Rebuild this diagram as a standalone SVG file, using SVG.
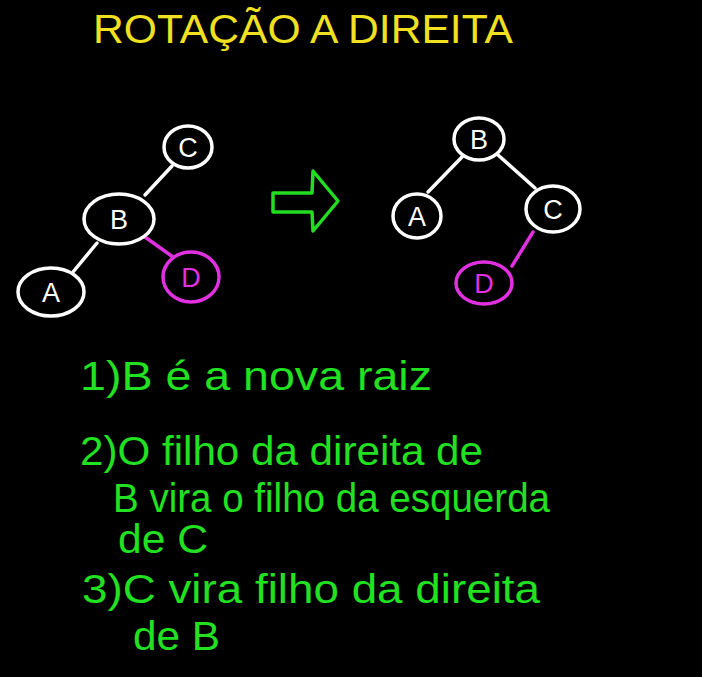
<svg xmlns="http://www.w3.org/2000/svg" width="702" height="677" viewBox="0 0 702 677">
<style>
.n{fill:#000;stroke:#fff;stroke-width:3.5}
.m{fill:#000;stroke:#e030e0;stroke-width:3.5}
.lw{fill:#fff;font-family:"Liberation Sans",Arial,sans-serif;font-size:27px;text-anchor:middle}
.lm{fill:#e030e0;font-family:"Liberation Sans",Arial,sans-serif;font-size:27px;text-anchor:middle}
.e{stroke:#fff;stroke-width:3.5;stroke-linecap:round;fill:none}
.em{stroke:#e030e0;stroke-width:3.5;stroke-linecap:round;fill:none}
.t{fill:#22e022;font-family:"Liberation Sans",Arial,sans-serif;font-size:40px}
</style>
<rect width="702" height="677" fill="#000"/>
<text id="title" x="93" y="43" fill="#f0e020" font-family="Liberation Sans,Arial,sans-serif" font-size="40" textLength="420" lengthAdjust="spacingAndGlyphs">ROTAÇÃO A DIREITA</text>
<g id="connectors">
<line class="e" x1="172" y1="166" x2="145" y2="195"/>
<line class="e" x1="97" y1="243" x2="73" y2="272"/>
<line class="em" x1="145" y1="237" x2="173" y2="257"/>
<line class="e" x1="462" y1="157" x2="428" y2="192"/>
<line class="e" x1="498" y1="155" x2="535" y2="188"/>
<line class="em" x1="533" y1="232" x2="512" y2="266"/>
</g>
<g id="L_C"><ellipse class="n" cx="188" cy="147" rx="24" ry="21"/><text class="lw" x="188" y="157">C</text></g>
<g id="L_B"><ellipse class="n" cx="119" cy="219" rx="35" ry="25"/><text class="lw" x="119" y="229">B</text></g>
<g id="L_A"><ellipse class="n" cx="51" cy="292" rx="33" ry="24"/><text class="lw" x="51" y="302">A</text></g>
<g id="L_D"><ellipse class="m" cx="191" cy="277" rx="28" ry="25"/><text class="lm" x="191" y="287">D</text></g>
<g id="arrow"><path d="M273,193 L312,193 L313,171 L338,201 L313,231 L312,212 L273,212 Z" fill="none" stroke="#22dd22" stroke-width="3.5" stroke-linejoin="round"/></g>
<g id="R_B"><ellipse class="n" cx="479" cy="139" rx="25" ry="21"/><text class="lw" x="479" y="149">B</text></g>
<g id="R_A"><ellipse class="n" cx="417" cy="216" rx="24" ry="22"/><text class="lw" x="417" y="226">A</text></g>
<g id="R_C"><ellipse class="n" cx="553" cy="209" rx="27" ry="23"/><text class="lw" x="553" y="219">C</text></g>
<g id="R_D"><ellipse class="m" cx="484" cy="283" rx="28" ry="21"/><text class="lm" x="484" y="293">D</text></g>
<g id="steps">
<text class="t" x="80" y="390" textLength="352" lengthAdjust="spacingAndGlyphs">1)B é a nova raiz</text>
<text class="t" x="80" y="465" textLength="403" lengthAdjust="spacingAndGlyphs">2)O filho da direita de</text>
<text class="t" x="113" y="512" font-size="35" textLength="437" lengthAdjust="spacingAndGlyphs">B vira o filho da esquerda</text>
<text class="t" x="118" y="553" font-size="30" textLength="90" lengthAdjust="spacingAndGlyphs">de C</text>
<text class="t" x="82" y="603" textLength="458" lengthAdjust="spacingAndGlyphs">3)C vira filho da direita</text>
<text class="t" x="133" y="650" font-size="36" textLength="87" lengthAdjust="spacingAndGlyphs">de B</text>
</g>
</svg>
